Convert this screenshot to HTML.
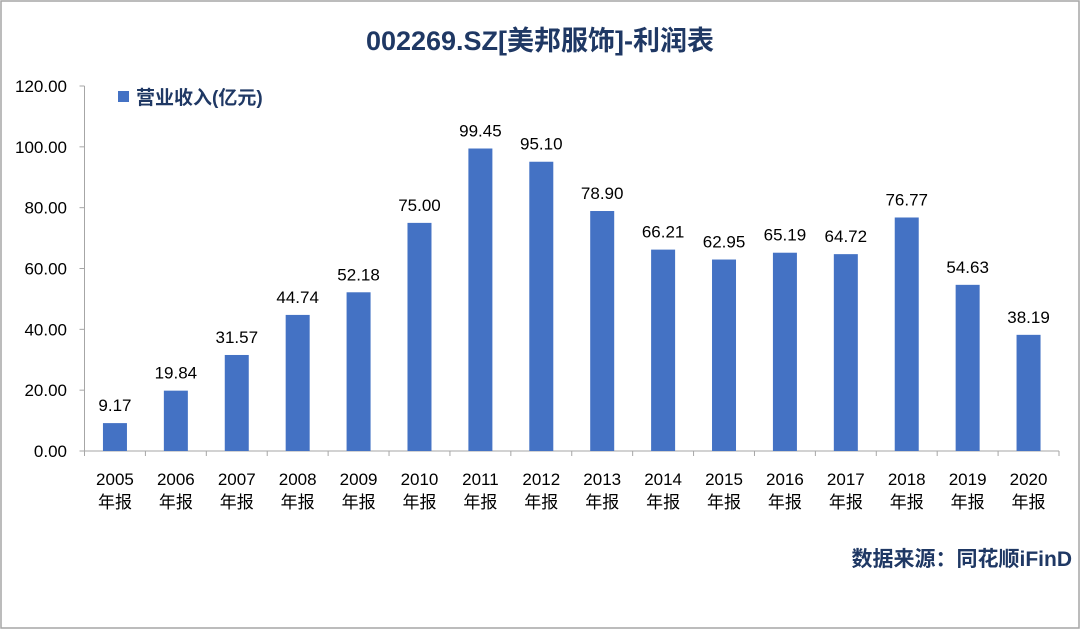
<!DOCTYPE html>
<html><head><meta charset="utf-8"><style>
body{margin:0;background:#fff}
svg{display:block}
text{font-family:"Liberation Sans","Noto Sans CJK SC",sans-serif}
</style></head><body>
<svg id="c" width="1080" height="629">
<rect x="1" y="1" width="1078" height="627" fill="#fff" stroke="#a6a6a6" stroke-width="1.5"/>
<text x="540" y="50" text-anchor="middle" font-size="27" font-weight="bold" fill="#1f3864">002269.SZ[美邦服饰]-利润表</text>
<rect x="118" y="91" width="11" height="11" fill="#4472c4"/>
<text x="136" y="104" font-size="19" font-weight="bold" fill="#1f3864">营业收入(亿元)</text>
<text x="1072" y="566" text-anchor="end" font-size="21" font-weight="bold" fill="#1f3864">数据来源：同花顺iFinD</text>
<g id="plot"></g>
</svg>
<script>
const categories=["2005","2006","2007","2008","2009","2010","2011","2012","2013","2014","2015","2016","2017","2018","2019","2020"];
const values=[9.17,19.84,31.57,44.74,52.18,75.00,99.45,95.10,78.90,66.21,62.95,65.19,64.72,76.77,54.63,38.19];
const yTicks=[0,20,40,60,80,100,120];
const NS="http://www.w3.org/2000/svg";
const g=document.getElementById('plot');
const x0=84.5,x1=1059,y0=451,yTop=86,ymax=120;
const step=(x1-x0)/categories.length;
const ys=v=>y0-(v/ymax)*(y0-yTop);
const xc=i=>x0+step*(i+0.5);
function mk(tag,attrs,txt){const e=document.createElementNS(NS,tag);for(const k in attrs)e.setAttribute(k,attrs[k]);if(txt!==undefined)e.textContent=txt;g.appendChild(e);return e;}
let e;
e=mk('line',{x1:x0,y1:yTop,x2:x0,y2:y0,stroke:'#a6a6a6'});


e=mk('line',{x1:x0,y1:y0,x2:x1,y2:y0,stroke:'#a6a6a6'});


yTicks.forEach(t=>{
 const y=ys(t);
 e=mk('line',{x1:x0-5,y1:y,x2:x0,y2:y,stroke:'#a6a6a6'});
 
 
 e=mk('text',{x:67,y:y+6,'text-anchor':'end','font-size':17,fill:'#000'},t.toFixed(2));
 
 
});
for(let i=0;i<=categories.length;i++){
 e=mk('line',{x1:x0+step*i,y1:y0,x2:x0+step*i,y2:y0+5,stroke:'#a6a6a6'});
 
 
}
categories.forEach((c,i)=>{
 const x=xc(i),v=values[i];
 e=mk('rect',{x:x-12,y:ys(v),width:24,height:y0-ys(v),fill:'#4472c4'});
 
 
 e=mk('text',{x:x,y:ys(v)-12,'text-anchor':'middle','font-size':17,fill:'#000'},v.toFixed(2));
 
 
 e=mk('text',{x:x,y:485,'text-anchor':'middle','font-size':17,fill:'#000'},c);
 
 
 e=mk('text',{x:x,y:508,'text-anchor':'middle','font-size':17,fill:'#000'},'年报');
 
 
});
</script>
</body></html>
